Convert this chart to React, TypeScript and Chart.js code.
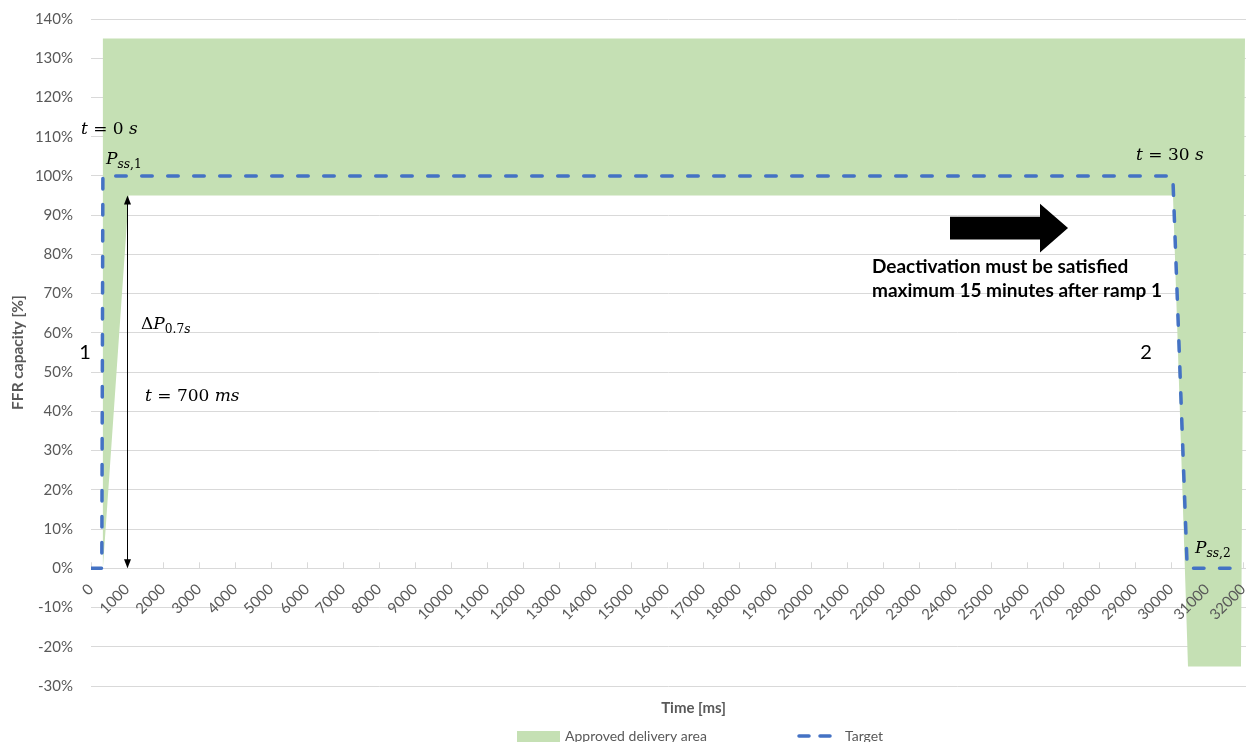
import React, { useEffect, useRef } from "react";
import { Chart, registerables } from "chart.js";

Chart.register(...registerables);

// ---- data ----
const xTickValues = [0, 1000, 2000, 3000, 4000, 5000, 6000, 7000, 8000, 9000, 10000, 11000, 12000, 13000, 14000, 15000, 16000, 17000, 18000, 19000, 20000, 21000, 22000, 23000, 24000, 25000, 26000, 27000, 28000, 29000, 30000, 31000, 32000];
const yTickValues = [-30, -20, -10, 0, 10, 20, 30, 40, 50, 60, 70, 80, 90, 100, 110, 120, 130, 140];

// Approved delivery area polygon (time ms, capacity %)
const areaTime = [32055, 31944, 30472, 30055, 1050, 330, 330];
const areaCapacity = [135, -25, -25, 95, 95, 0, 135];

// Target curve
const targetTime = [0, 300, 330, 30050, 30450, 31700];
const targetCapacity = [0, 0, 100, 100, 0, 0];

const seriesNames = ["Approved delivery area", "Target"];
const xTitle = "Time [ms]";
const yTitle = "FFR capacity [%]";

type Run = { t: string; it?: boolean; sub?: boolean };
type MathNote = { runs: Run[]; x: number; y: number };

const mathNotes: MathNote[] = [
  { runs: [{ t: "t", it: true }, { t: " = 0 " }, { t: "s", it: true }], x: -280, y: 111.7 },
  { runs: [{ t: "P", it: true }, { t: "ss", it: true, sub: true }, { t: ",1", sub: true }], x: 417, y: 104.1 },
  { runs: [{ t: "t", it: true }, { t: " = 30 " }, { t: "s", it: true }], x: 29028, y: 105.3 },
  { runs: [{ t: "Δ" }, { t: "P", it: true }, { t: "0.7", sub: true }, { t: "s", it: true, sub: true }], x: 1389, y: 62 },
  { runs: [{ t: "t", it: true }, { t: " = 700 " }, { t: "ms", it: true }], x: 1500, y: 43.7 },
  { runs: [{ t: "P", it: true }, { t: "ss", it: true, sub: true }, { t: ",2", sub: true }], x: 30667, y: 5 },
];

const rampLabels = [
  { text: "1", x: -167, y: 54.9 },
  { text: "2", x: 29306, y: 54.9 },
];

const deactivationText = ["Deactivation must be satisfied", "maximum 15 minutes after ramp 1"];
const deactivationPos = { x: 21694, y: [76.8, 70.7] };

// big arrow: tail x, head base x, tip x, centre y, body half-height, head half-height (data units)
const bigArrow = { tail: 23861, base: 26361, tip: 27139, y: 86.7, body: 2.93, head: 6.24 };
// double arrow Δt
const dimArrow = { x: 1000, from: 0, to: 95 };

const GRAY = "#595959";
const SANS = "Lato, 'Open Sans', sans-serif";
const SERIF = "'DejaVu Serif', serif";

function drawMath(ctx: CanvasRenderingContext2D, runs: Run[], x: number, y: number, size: number) {
  let cx = x;
  for (const r of runs) {
    const s = r.sub ? size * 0.72 : size;
    ctx.font = `${r.it ? "italic " : ""}${s}px ${SERIF}`;
    ctx.fillStyle = "#000";
    ctx.textBaseline = "middle";
    ctx.textAlign = "left";
    ctx.fillText(r.t, cx, r.sub ? y + size * 0.3 : y);
    cx += ctx.measureText(r.t).width;
  }
}

const annotPlugin = {
  id: "annot",
  beforeDatasetsDraw(chart: any) {
    const { ctx, scales } = chart;
    const xs = scales.x, ys = scales.y;
    const y0 = ys.getPixelForValue(0);
    ctx.save();
    ctx.strokeStyle = "#d9d9d9";
    ctx.lineWidth = 1;
    for (const v of xTickValues) {
      const px = Math.round(xs.getPixelForValue(v)) + 0.5;
      ctx.beginPath();
      ctx.moveTo(px, y0 - 6);
      ctx.lineTo(px, y0);
      ctx.stroke();
    }
    ctx.restore();
  },
  afterDatasetsDraw(chart: any) {
    const { ctx, scales } = chart;
    const xs = scales.x, ys = scales.y;
    const X = (v: number) => xs.getPixelForValue(v);
    const Y = (v: number) => ys.getPixelForValue(v);
    ctx.save();
    for (const n of mathNotes) drawMath(ctx, n.runs, X(n.x), Y(n.y), 17);

    ctx.font = `20px ${SANS}`;
    ctx.fillStyle = "#000";
    ctx.textAlign = "center";
    ctx.textBaseline = "middle";
    for (const r of rampLabels) ctx.fillText(r.text, X(r.x), Y(r.y));

    ctx.font = `bold 19px ${SANS}`;
    ctx.textAlign = "left";
    deactivationText.forEach((t, i) => ctx.fillText(t, X(deactivationPos.x), Y(deactivationPos.y[i])));

    // big arrow
    ctx.beginPath();
    ctx.moveTo(X(bigArrow.tail), Y(bigArrow.y + bigArrow.body));
    ctx.lineTo(X(bigArrow.base), Y(bigArrow.y + bigArrow.body));
    ctx.lineTo(X(bigArrow.base), Y(bigArrow.y + bigArrow.head));
    ctx.lineTo(X(bigArrow.tip), Y(bigArrow.y));
    ctx.lineTo(X(bigArrow.base), Y(bigArrow.y - bigArrow.head));
    ctx.lineTo(X(bigArrow.base), Y(bigArrow.y - bigArrow.body));
    ctx.lineTo(X(bigArrow.tail), Y(bigArrow.y - bigArrow.body));
    ctx.closePath();
    ctx.fill();

    // dimension arrow
    const ax = Math.round(X(dimArrow.x)) + 0.5;
    const yTop = Y(dimArrow.to), yBot = Y(dimArrow.from);
    ctx.strokeStyle = "#000";
    ctx.lineWidth = 1;
    ctx.beginPath();
    ctx.moveTo(ax, yTop + 6);
    ctx.lineTo(ax, yBot - 6);
    ctx.stroke();
    ctx.beginPath();
    ctx.moveTo(ax, yTop);
    ctx.lineTo(ax - 3.5, yTop + 9);
    ctx.lineTo(ax + 3.5, yTop + 9);
    ctx.closePath();
    ctx.fill();
    ctx.beginPath();
    ctx.moveTo(ax, yBot);
    ctx.lineTo(ax - 3.5, yBot - 9);
    ctx.lineTo(ax + 3.5, yBot - 9);
    ctx.closePath();
    ctx.fill();
    ctx.restore();
  },
  afterDraw(chart: any) {
    const { ctx, chartArea } = chart;
    ctx.save();
    ctx.fillStyle = GRAY;
    ctx.font = `bold 15px ${SANS}`;
    ctx.textAlign = "center";
    ctx.textBaseline = "middle";
    ctx.fillText(xTitle, (chartArea.left + chartArea.right) / 2 + 25, chartArea.bottom + 22);
    ctx.save();
    ctx.translate(chartArea.left - 73, (chartArea.top + chartArea.bottom) / 2);
    ctx.rotate(-Math.PI / 2);
    ctx.font = `bold 15.5px ${SANS}`;
    ctx.fillText(yTitle, 0, 0);
    ctx.restore();

    // legend
    const ly = chartArea.bottom + 50;
    ctx.fillStyle = "#C5E0B4";
    ctx.fillRect(517, ly - 5, 43, 12);
    ctx.fillStyle = GRAY;
    ctx.font = `14px ${SANS}`;
    ctx.textAlign = "left";
    ctx.fillText(seriesNames[0], 565, ly);
    ctx.strokeStyle = "#4472C4";
    ctx.lineWidth = 3.5;
    ctx.lineCap = "round";
    ctx.beginPath();
    ctx.moveTo(799, ly); ctx.lineTo(809, ly);
    ctx.moveTo(820, ly); ctx.lineTo(830, ly);
    ctx.stroke();
    ctx.fillText(seriesNames[1], 845, ly);
    ctx.restore();
  },
};

export default function App() {
  const ref = useRef<HTMLCanvasElement>(null);
  useEffect(() => {
    if (!ref.current) return;
    const chart = new Chart(ref.current, {
      type: "line",
      data: {
        datasets: [
          {
            label: seriesNames[0],
            data: areaTime.map((t, i) => ({ x: t, y: areaCapacity[i] })),
            backgroundColor: "#C5E0B4",
            borderColor: "#C5E0B4",
            borderWidth: 0,
            pointRadius: 0,
            fill: "shape",
            tension: 0,
            order: 2,
          },
          {
            label: seriesNames[1],
            data: targetTime.map((t, i) => ({ x: t, y: targetCapacity[i] })),
            borderColor: "#4472C4",
            borderWidth: 3.5,
            borderDash: [10.5, 15.5],
            borderCapStyle: "round",
            borderJoinStyle: "round",
            pointRadius: 0,
            fill: false,
            tension: 0,
            order: 1,
          },
        ],
      },
      options: {
        animation: false,
        responsive: false,
        layout: { padding: { top: 19, right: 5, bottom: 56, left: 0 } },
        plugins: { legend: { display: false }, tooltip: { enabled: false } },
        scales: {
          x: {
            type: "linear",
            position: { y: 0 } as any,
            min: 0,
            max: 32083,
            grid: { display: false },
            border: { display: false },
            afterBuildTicks: (s: any) => {
              s.ticks = xTickValues.map((v) => ({ value: v }));
            },
            afterFit: (s: any) => {
              s.height = 0;
              s.paddingLeft = 0;
              s.paddingRight = 0;
              s.paddingTop = 0;
              s.paddingBottom = 0;
            },
            ticks: {
              z: 1,
              autoSkip: false,
              minRotation: 45,
              maxRotation: 45,
              padding: 4,
              color: GRAY,
              font: { family: SANS, size: 15 },
              callback: (v: any) => String(v),
            } as any,
          },
          y: {
            type: "linear",
            position: "left",
            min: -30,
            max: 140,
            grid: { color: "#d9d9d9", drawTicks: false },
            border: { display: false },
            afterBuildTicks: (s: any) => {
              s.ticks = yTickValues.map((v) => ({ value: v }));
            },
            afterFit: (s: any) => {
              s.width = 91;
              s.paddingTop = 0;
              s.paddingBottom = 0;
            },
            ticks: {
              padding: 18,
              color: GRAY,
              font: { family: SANS, size: 15 },
              callback: (v: any) => `${v}%`,
            },
          },
        },
      },
      plugins: [annotPlugin],
    });
    return () => chart.destroy();
  }, []);
  return (
    <div style={{ position: "absolute", left: 0, top: 0, width: 1251, height: 742, background: "#fff" }}>
      <canvas ref={ref} width={1251} height={742} style={{ display: "block" }} />
    </div>
  );
}
